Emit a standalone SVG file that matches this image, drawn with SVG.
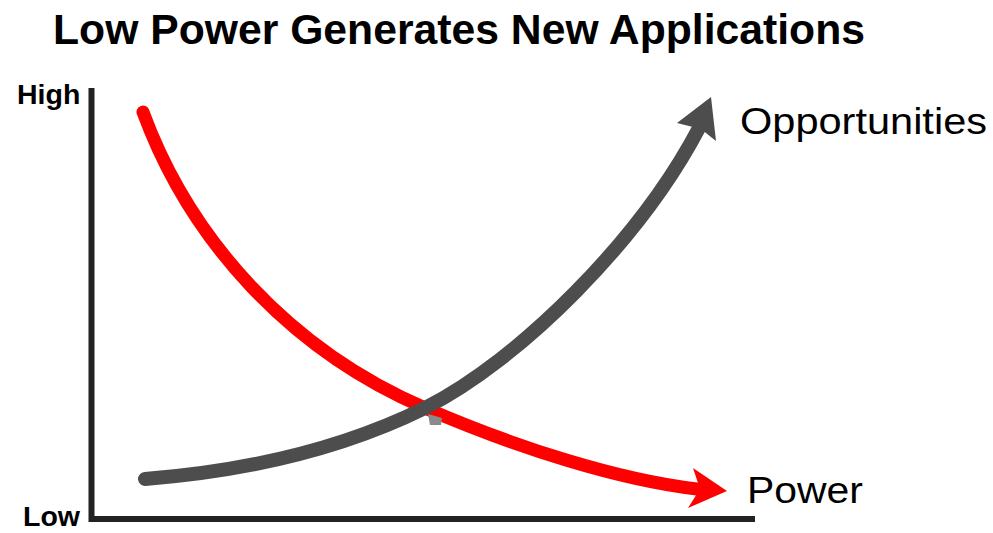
<svg xmlns="http://www.w3.org/2000/svg" width="993" height="533" viewBox="0 0 993 533">
  <style>
    text { font-family: "Liberation Sans", Arial, sans-serif; fill: #000; }
    .title { font-size: 42.5px; font-weight: bold; }
    .axislabel { font-size: 28.5px; font-weight: bold; }
    .serieslabel { font-size: 37px; }
    .axis { stroke: #222; stroke-width: 6; fill: none; }
    .power { stroke: #ff0000; stroke-width: 13; fill: none; stroke-linecap: round; }
    .opps { stroke: #4d4d4d; stroke-width: 14; fill: none; stroke-linecap: round; }
  </style>
  <rect width="993" height="533" fill="#fff"/>

  <g id="title">
    <text class="title" x="53" y="44" textLength="812" lengthAdjust="spacingAndGlyphs">Low Power Generates New Applications</text>
  </g>

  <g id="axes">
    <path class="axis" d="M91.5,88 V519 H755"/>
    <text class="axislabel" x="17" y="104">High</text>
    <text class="axislabel" x="23" y="526">Low</text>
  </g>

  <g id="connectors">
    <g id="power-curve">
      <path class="power" d="M143,112 C190,240 290,350 425,408 C520,449 620,480 697,489"/>
      <polygon fill="#ff0000" points="727,491 693,468 700,489 688,508"/>
    </g>
    <path fill="#8a8a8a" d="M428,414 L442,418 L441,425 L430,425 Z"/>
    <g id="opportunities-curve">
      <path class="opps" d="M145,479 C260,470 350,445 425,408 C520,360 640,240 699,128"/>
      <polygon fill="#4d4d4d" points="711,97 716,141 701,129 677,123"/>
    </g>
  </g>

  <g id="series-labels">
    <text class="serieslabel" x="740" y="134" textLength="247" lengthAdjust="spacingAndGlyphs">Opportunities</text>
    <text class="serieslabel" x="747" y="503" textLength="116" lengthAdjust="spacingAndGlyphs">Power</text>
  </g>
</svg>
